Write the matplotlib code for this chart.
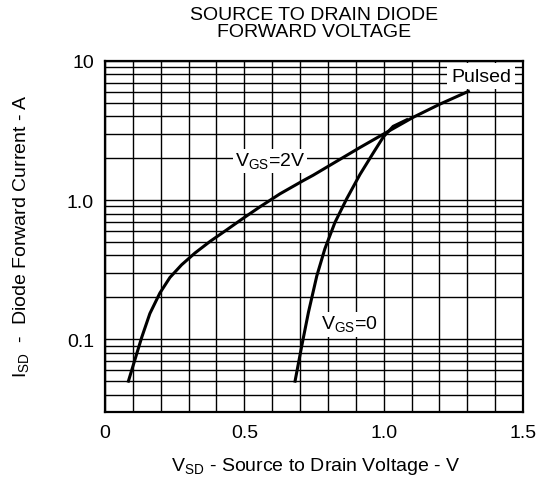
import matplotlib

matplotlib.use("Agg")
import matplotlib.pyplot as plt
from matplotlib.ticker import FixedLocator, FixedFormatter, LogLocator, MultipleLocator, NullFormatter

plt.rcParams["font.family"] = ["Liberation Sans", "DejaVu Sans"]
plt.rcParams["mathtext.fontset"] = "custom"
plt.rcParams["mathtext.rm"] = "Liberation Sans"

# curves (V, A)
vsd_vgs2 = [0.084, 0.108, 0.132, 0.161, 0.197, 0.233, 0.275, 0.323, 0.377, 0.437,
            0.496, 0.556, 0.628, 0.711, 0.747, 0.831, 0.915, 0.995, 1.106, 1.202, 1.304]
isd_vgs2 = [0.050, 0.072, 0.1035, 0.153, 0.215, 0.278, 0.343, 0.417, 0.505, 0.612,
            0.741, 0.895, 1.11, 1.38, 1.51, 1.90, 2.39, 2.95, 3.94, 4.9, 6.05]

vsd_vgs0 = [0.682, 0.706, 0.730, 0.760, 0.789, 0.825, 0.867, 0.915, 0.963, 0.999, 1.034, 1.083]
isd_vgs0 = [0.050, 0.0895, 0.156, 0.285, 0.447, 0.69, 1.02, 1.53, 2.19, 2.85, 3.39, 3.78]

x_ticks = [0, 0.5, 1.0, 1.5]
x_tick_labels = ["0", "0.5", "1.0", "1.5"]
y_ticks = [0.1, 1.0, 10]
y_tick_labels = ["0.1", "1.0", "10"]

fig = plt.figure(figsize=(5.44, 4.81), dpi=100)
ax = fig.add_axes([105 / 544, 1 - 413 / 481, 418 / 544, 351 / 481])

ax.set_yscale("log")
ax.set_xlim(0, 1.5)
ax.set_ylim(0.03, 10)

ax.xaxis.set_major_locator(FixedLocator(x_ticks))
ax.xaxis.set_major_formatter(FixedFormatter(x_tick_labels))
ax.xaxis.set_minor_locator(MultipleLocator(0.1))
ax.yaxis.set_major_locator(FixedLocator(y_ticks))
ax.yaxis.set_major_formatter(FixedFormatter(y_tick_labels))
ax.yaxis.set_minor_locator(LogLocator(base=10, subs=range(2, 10), numticks=20))
ax.yaxis.set_minor_formatter(NullFormatter())

ax.grid(which="both", color="black", linewidth=1.0)
ax.set_axisbelow(True)
ax.tick_params(which="both", length=0, labelsize=14)
ax.tick_params(axis="x", pad=9)
ax.tick_params(axis="y", pad=8)
for s in ax.spines.values():
    s.set_linewidth(1.6)

ax.plot(vsd_vgs2, isd_vgs2, color="black", linewidth=2.2, zorder=3)
ax.plot(vsd_vgs0, isd_vgs0, color="black", linewidth=2.2, zorder=3)

box = dict(facecolor="white", edgecolor="none", pad=1.5)
ax.text(0.592, 1.91, r"V$_{\mathregular{GS}}$=2V", fontsize=14, ha="center",
        va="center", bbox=box, zorder=4)
ax.text(0.879, 0.128, r"V$_{\mathregular{GS}}$=0", fontsize=14, ha="center",
        va="center", bbox=box, zorder=4)
ax.text(1.35, 7.8, "Pulsed", fontsize=14, ha="center", va="center",
        bbox=dict(facecolor="white", edgecolor="none", pad=3), zorder=4)

fig.text(314 / 544, 1 - 24 / 481, "SOURCE TO DRAIN DIODE\nFORWARD VOLTAGE",
         ha="center", va="center", fontsize=14, linespacing=0.95)
fig.text(316 / 544, 1 - 467 / 481, r"V$_{\mathregular{SD}}$ - Source to Drain Voltage - V",
         ha="center", va="center", fontsize=14)
fig.text(22 / 544, 1 - 236 / 481, r"I$_{\mathregular{SD}}$  -  Diode Forward Current - A",
         ha="center", va="center", fontsize=14, rotation=90)

fig.savefig("out.png", dpi=100)
